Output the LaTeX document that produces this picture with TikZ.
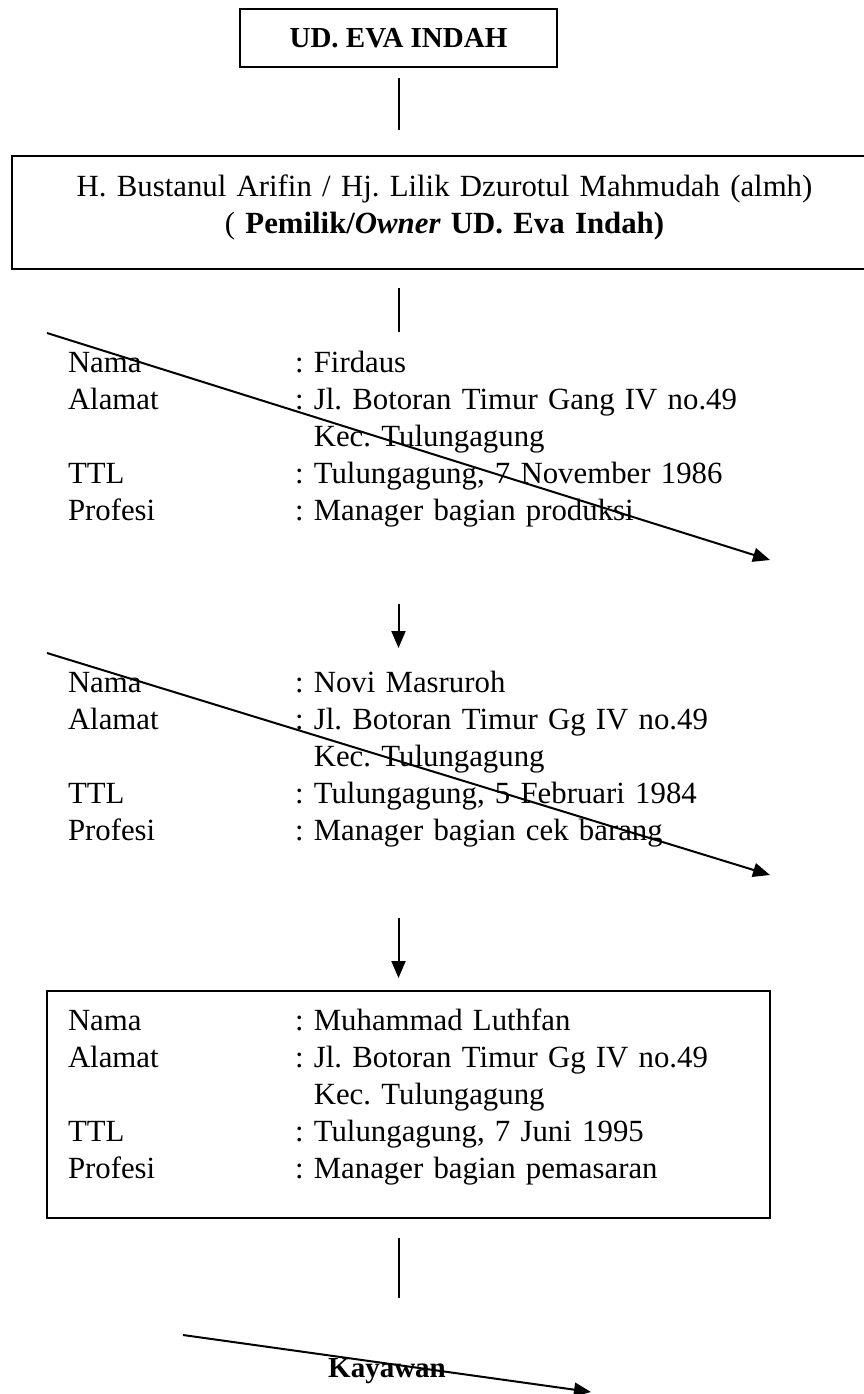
\documentclass[tikz,border=0pt]{standalone}
\usepackage{fontspec}
\setmainfont{Liberation Serif}
\usetikzlibrary{arrows.meta,positioning,calc}
\frenchspacing

\newcommand{\infosize}{\fontsize{30.8pt}{37pt}\selectfont}
\newcommand{\headsize}{\fontsize{29pt}{34pt}\selectfont}
\newcommand{\infotab}[4]{%
  \begin{tabular}[t]{@{}p{227pt}@{}l@{}}
  Nama & : #1\\
  Alamat & : #2\\
   & \phantom{:~}Kec. Tulungagung\\
  TTL & : #3\\
  Profesi & : #4
  \end{tabular}}

\tikzset{
  box/.style={draw, line width=2pt, inner sep=0pt, outer sep=0pt},
  infoblk/.style={anchor=base west, inner xsep=21pt, inner ysep=0pt, outer sep=0pt,
    text width=681pt, text height=39pt, text depth=188pt, font=\infosize, line width=2pt},
  link/.style={line width=2pt},
  arr/.style={line width=2pt, -{Triangle[length=17pt,width=14pt]}}
}

\begin{document}
\begin{tikzpicture}[x=1pt,y=-1pt]
\useasboundingbox (0,0) rectangle (864,1394);

% Company
\node[box, minimum width=317pt, minimum height=58pt, font=\headsize\bfseries] (title) at (398.5,38) {UD. EVA INDAH};

% Owner
\node[box, anchor=base, text width=865pt, align=center, text height=40pt, text depth=73pt, font=\infosize] (owner) at (444.5,196)
  {H. Bustanul Arifin / Hj. Lilik Dzurotul Mahmudah (almh)\\( \textbf{Pemilik/\textit{Owner} UD. Eva Indah)}};

% Managers
\node[infoblk] (firdaus) at (47,372) {\infotab{Firdaus}{Jl. Botoran Timur Gang IV no.49}{Tulungagung, 7 November 1986}{Manager bagian produksi}};
\node[infoblk] (novi) at (47,692) {\infotab{Novi Masruroh}{Jl. Botoran Timur Gg IV no.49}{Tulungagung, 5 Februari 1984}{Manager bagian cek barang}};
\node[infoblk, draw] (luthfan) at (47,1030) {\infotab{Muhammad Luthfan}{Jl. Botoran Timur Gg IV no.49}{Tulungagung, 7 Juni 1995}{Manager bagian pemasaran}};

% Employees
\node[font=\headsize\bfseries, anchor=base] (kayawan) at (387,1377) {Kayawan};

% Links
\draw[link, shorten <=11pt, shorten >=26pt] (title.south) -- (title.south |- owner.north);
\draw[link, shorten <=19pt, shorten >=1pt] (title.south |- owner.south) -- (title.south |- firdaus.north);
\draw[arr, shorten <=44pt, shorten >=5pt] (title.south |- firdaus.south) -- (title.south |- novi.north);
\draw[arr, shorten <=38pt, shorten >=13pt] (title.south |- novi.south) -- (title.south |- luthfan.north);
\draw[link, shorten <=20pt, shorten >=56pt] (title.south |- luthfan.south) -- (title.south |- kayawan.north);

% Crossed out
\draw[arr] (firdaus.north west) -- (firdaus.south east);
\draw[arr] (novi.north west) -- ([yshift=5pt]novi.south east);
\coordinate (kayA) at (183,1335);
\coordinate (kayB) at (591,1392);
\draw[arr] (kayA) -- (kayB);

\end{tikzpicture}
\end{document}
